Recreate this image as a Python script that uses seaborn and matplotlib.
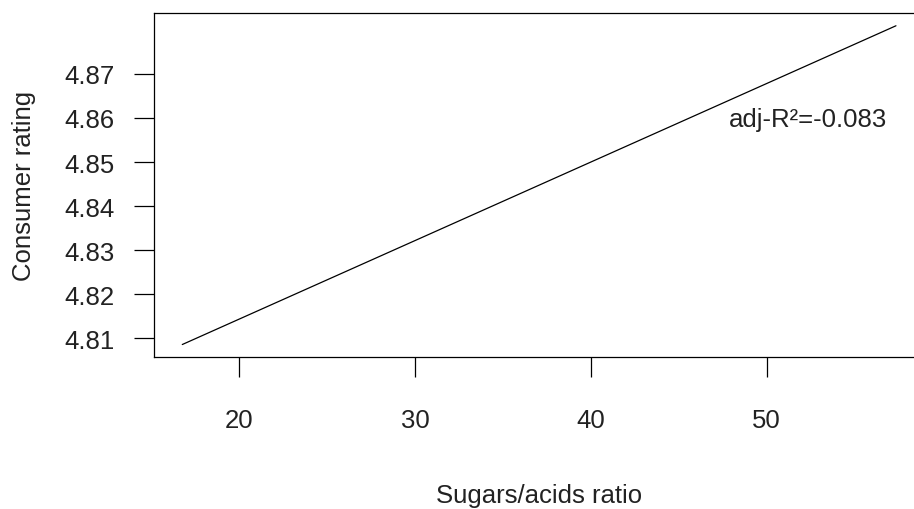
import numpy as np
import pandas as pd
import seaborn as sns
import matplotlib
matplotlib.use("Agg")
import matplotlib.pyplot as plt

# fitted line (end points)
ratio = [16.77, 57.36]
rating = [4.8086, 4.8809]
x_ticks = [20, 30, 40, 50]
y_ticks = [4.81, 4.82, 4.83, 4.84, 4.85, 4.86, 4.87]
r2_text = "adj-R²=-0.083"
r2_pos = (52.35, 4.8598)

sns.set_style("white")
plt.rcParams['font.family'] = ['Liberation Sans', 'DejaVu Sans']

df = pd.DataFrame({"ratio": ratio, "rating": rating})

fig = plt.figure(figsize=(9.14, 5.10), dpi=100)
ax = fig.add_axes([0.1682, 0.2975, 0.8433, 0.675])

sns.lineplot(data=df, x="ratio", y="rating", color="black", linewidth=0.9, ax=ax)
ax.margins(x=0.04, y=0.04)

ax.set_xticks(x_ticks)
ax.set_yticks(y_ticks)
ax.set_yticklabels([f"{v:.2f}" for v in y_ticks])
ax.tick_params(axis="both", direction="out", length=14.5, width=0.9,
               color="black", labelsize=18.5, labelcolor="#222222",
               left=True, bottom=True)
ax.tick_params(axis="x", pad=22)
ax.tick_params(axis="y", pad=14)

for s in ax.spines.values():
    s.set_color("black")
    s.set_linewidth(0.9)

ax.set_xlabel("Sugars/acids ratio", fontsize=18.5, color="#222222", labelpad=37)
ax.set_ylabel("Consumer rating", fontsize=18.5, color="#222222", labelpad=20)

ax.text(r2_pos[0], r2_pos[1], r2_text, fontsize=18.5, color="#222222",
        ha="center", va="center")

fig.savefig("out.png", dpi=100)
